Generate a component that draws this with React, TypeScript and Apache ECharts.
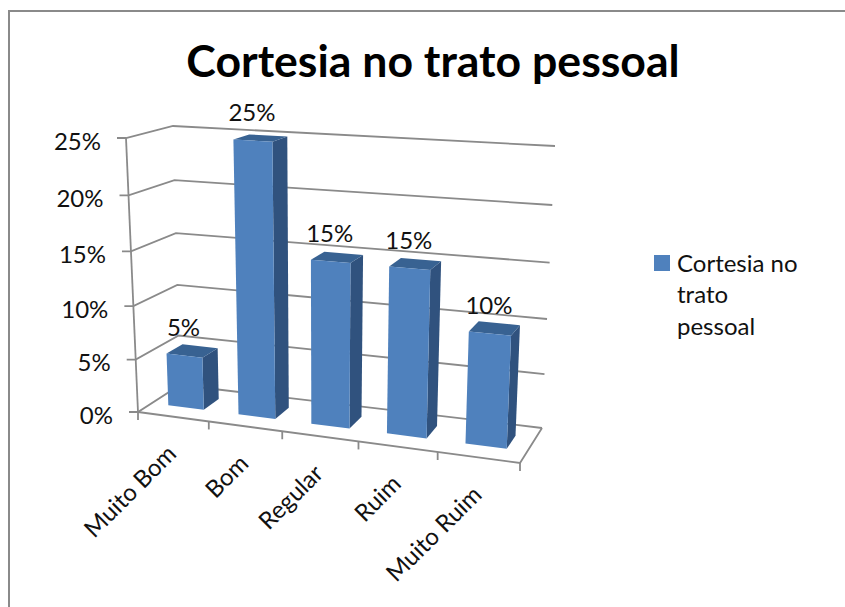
import React, { useEffect, useRef } from "react";
import * as echarts from "echarts";

const chartTitle = "Cortesia no trato pessoal";
const categories = ["Muito Bom", "Bom", "Regular", "Ruim", "Muito Ruim"];
const percentages = [5, 25, 15, 15, 10];
const yTicks = [0, 5, 10, 15, 20, 25];
const legendLines = ["Cortesia no", "trato", "pessoal"];

const FONT = "Lato, Carlito, sans-serif";
const LINE = "#8a8a8a";
const FRONT = "#4f81bd";
const SIDE = "#30527e";
const TOP = "#386292";
const INK = "#111111";

type P = [number, number];

// Corners of the box the 3D plot sits in, in page pixels.
const FLB: P = [138, 412];
const FRB: P = [520, 463];
const BLB: P = [180, 385];
const BRB: P = [542, 428];
const FLT: P = [126, 138];
const FRT: P = [532, 163];
const BLT: P = [173, 126];
const BRT: P = [555, 146];

const lerp = (a: P, b: P, t: number): P => [a[0] + (b[0] - a[0]) * t, a[1] + (b[1] - a[1]) * t];
// Perspective foreshortening along one edge of the box.
const warp = (t: number, k: number) => (t * k) / (1 - (1 - k) * t);

// u: along the categories, d: depth from front to back, v: up the value axis (all 0..1).
const project = (u: number, d: number, v: number): P => {
  const wu = warp(u, 0.91);
  const wv = warp(v, 0.945);
  const floor = lerp(lerp(FLB, FRB, wu), lerp(BLB, BRB, wu), d);
  const ceil = lerp(lerp(FLT, FRT, wu), lerp(BLT, BRT, wu), d);
  return lerp(floor, ceil, wv);
};

const lineEl = (points: P[]) => ({
  type: "polyline",
  shape: { points },
  style: { fill: "none", stroke: LINE, lineWidth: 1.8 },
});

const textEl = (text: string, x: number, y: number, fontSize: number, align: string, rotation = 0) => ({
  type: "text",
  x,
  y,
  rotation,
  style: {
    text,
    x: 0,
    y: 0,
    align,
    verticalAlign: "middle",
    fill: INK,
    font: `${fontSize}px ${FONT}`,
  },
});

const BAR_START = 0.24;
const BAR_END = 0.75;
const BAR_FRONT = 0.33;
const BAR_BACK = 0.71;

export default function App() {
  const ref = useRef<HTMLDivElement>(null);

  useEffect(() => {
    const chart = echarts.init(ref.current!, undefined, { renderer: "svg" });

    const toUV = (params: any, api: any, cat: number, val: number) => {
      const rect = params.coordSys;
      const [x, y] = api.coord([cat, val]);
      return [(x - rect.x) / rect.width, (rect.y + rect.height - y) / rect.height];
    };

    chart.setOption({
      animation: false,
      backgroundColor: "#ffffff",
      title: {
        text: chartTitle,
        left: 428,
        top: 32,
        textAlign: "center",
        textStyle: { fontFamily: FONT, fontSize: 44.6, fontWeight: "bold", color: "#000000" },
      },
      grid: { left: 100, right: 300, top: 100, bottom: 200 },
      xAxis: { type: "category", data: categories, show: false },
      yAxis: { type: "value", min: 0, max: 25, interval: 5, show: false },
      graphic: [
        {
          type: "polyline",
          shape: { points: [[9, 620], [9, 11], [860, 11]] },
          style: { fill: "none", stroke: LINE, lineWidth: 2 },
        },
        {
          type: "rect",
          shape: { x: 654, y: 255, width: 16, height: 16 },
          style: { fill: FRONT },
        },
        ...legendLines.map((line, i) => ({
          type: "text",
          x: 677,
          y: 262 + i * 31.5,
          style: { text: line, align: "left", verticalAlign: "middle", fill: INK, font: `24px ${FONT}` },
        })),
      ],
      series: [
        {
          // Walls and floor: gridlines, axis lines and tick marks.
          type: "custom",
          silent: true,
          clip: false,
          data: yTicks.map((t) => [0, t]),
          encode: { x: 0, y: 1 },
          renderItem: (params: any, api: any) => {
            const [, v] = toUV(params, api, 0, api.value(1));
            const front = project(0, 0, v);
            const label = `${api.value(1)}%`;
            const children: any[] = [
              lineEl([[front[0] - 9, front[1]], front, project(0, 1, v), project(1, 1, v)]),
              textEl(label, front[0] - 25, front[1] + 2, 24, "right"),
            ];
            if (params.dataIndex === 0) {
              children.push(lineEl([project(0, 0, 0), project(0, 0, 1)]));
              children.push(lineEl([project(0, 0, 0), project(1, 0, 0), project(1, 1, 0)]));
              for (let i = 0; i <= categories.length; i++) {
                const p = project(i / categories.length, 0, 0);
                children.push(lineEl([p, [p[0], p[1] + 8]]));
              }
            }
            return { type: "group", children };
          },
        },
        {
          // Bars as three faces each, with value and category labels.
          type: "custom",
          name: chartTitle,
          silent: true,
          clip: false,
          data: percentages.map((v, i) => [i, v]),
          encode: { x: 0, y: 1 },
          renderItem: (params: any, api: any) => {
            const cat = api.value(0);
            const val = api.value(1);
            const band = api.size([1, 0])[0] / params.coordSys.width;
            const [uc, v] = toUV(params, api, cat, val);
            const u0 = uc + band * (BAR_START - 0.5);
            const u1 = uc + band * (BAR_END - 0.5);
            const poly = (points: P[], fill: string) => ({ type: "polygon", shape: { points }, style: { fill } });
            const ftl = project(u0, BAR_FRONT, v);
            const ftr = project(u1, BAR_FRONT, v);
            const fbl = project(u0, BAR_FRONT, 0);
            const fbr = project(u1, BAR_FRONT, 0);
            const btl = project(u0, BAR_BACK, v);
            const btr = project(u1, BAR_BACK, v);
            const bbr = project(u1, BAR_BACK, 0);
            const axisPoint = project(uc, 0, 0);
            return {
              type: "group",
              children: [
                poly([fbr, bbr, btr, ftr], SIDE),
                poly([ftl, ftr, btr, btl], TOP),
                poly([fbl, fbr, ftr, ftl], FRONT),
                textEl(`${val}%`, (ftl[0] + ftr[0]) / 2 - 1, (ftl[1] + ftr[1]) / 2 - 29, 24, "center"),
                textEl(categories[cat], axisPoint[0] - 2, axisPoint[1] + 32, 24, "right", Math.PI / 4),
              ],
            };
          },
        },
      ],
    });

    return () => chart.dispose();
  }, []);

  return <div ref={ref} style={{ position: "absolute", left: 0, top: 0, width: 845, height: 607 }} />;
}
